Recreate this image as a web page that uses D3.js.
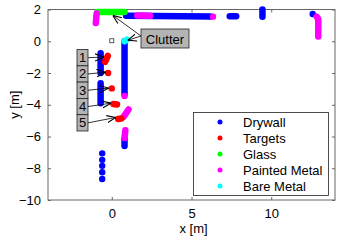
<!DOCTYPE html>
<html><head><meta charset="utf-8">
<script src="https://cdn.jsdelivr.net/npm/d3@7"></script>
<style>body{margin:0;background:#fff}svg{display:block;font-family:"Liberation Sans",Arial,sans-serif}</style>
</head><body><svg id="c" width="341" height="242"></svg>
<script>
const xTicks = [0, 5, 10];
const yTicks = [-10, -8, -6, -4, -2, 0, 2];
const categories = ["Drywall", "Targets", "Glass", "Painted Metal", "Bare Metal"];
const colors = ["#0000ff", "#ff0000", "#00ff00", "#ff00ff", "#00ffff"];

const drywallLines = [
  [[0.9, 1.6], [6.2, 1.56]],
  [[7.4, 1.57], [7.8, 1.57]],
  [[9.45, 2.0], [9.45, 1.55]],
  [[0.8, 0.0], [0.8, -3.35]],
  [[-0.7, -0.75], [-0.7, -2.0]],
  [[-0.7, -2.65], [-0.7, -3.9]],
  [[0.8, -6.15], [0.8, -6.6]]
];
const drywallPoints = [[12.6, 1.72], [-0.6, -7.06], [-0.6, -7.47], [-0.6, -7.85], [-0.6, -8.25], [-0.6, -8.68]];
const targetLines = [
  [[-0.25, -0.92], [-0.42, -1.3]],
  [[0.1, -3.95], [0.33, -3.98]],
  [[0.4, -4.9], [0.6, -4.87]]
];
const targetPoints = [[-0.23, -2.0], [0.0, -2.97]];
const glassLines = [[[-0.9, 1.84], [0.8, 1.84]]];
const paintedLines = [
  [[-0.95, 1.75], [-1.0, 1.15]],
  [[1.6, 1.62], [2.4, 1.6]],
  [[12.85, 1.55], [12.95, 1.4], [12.95, 0.3]],
  [[1.05, -4.3], [0.75, -4.75]],
  [[0.85, -5.6], [0.8, -6.1]]
];
const paintedPoints = [[6.35, 1.55], [0.8, -3.45]];
const bareLines = [[[0.8, 0.0], [0.95, 0.1]]];
const sensor = [0, 0];
const targetLabels = ["1", "2", "3", "4", "5"];
const targetArrowTips = [[-0.5, -1.0], [-0.38, -1.95], [-0.2, -2.95], [-0.05, -3.9], [0.25, -4.8]];
const clutterTips = [[0.06, 1.63], [1.0, 0.06]];

const svg = d3.select("#c");
const L = 48, R = 335, T = 9.5, B = 200;
const x = d3.scaleLinear().domain([-4, 14]).range([L, R]);
const y = d3.scaleLinear().domain([-10, 2]).range([B, T]);
const axisColor = "#666";

const gx = svg.append("g").attr("transform", `translate(0,${B})`)
  .call(d3.axisBottom(x).tickValues(xTicks).tickSizeInner(-3).tickSizeOuter(0).tickPadding(9));
const gxt = svg.append("g").attr("transform", `translate(0,${T})`)
  .call(d3.axisTop(x).tickValues(xTicks).tickSizeInner(-3).tickSizeOuter(0).tickFormat(""));
const gy = svg.append("g").attr("transform", `translate(${L},0)`)
  .call(d3.axisLeft(y).tickValues(yTicks).tickSizeInner(-3).tickSizeOuter(0).tickPadding(7));
const gyr = svg.append("g").attr("transform", `translate(${R},0)`)
  .call(d3.axisRight(y).tickValues(yTicks).tickSizeInner(-3).tickSizeOuter(0).tickFormat(""));
[gx, gxt, gy, gyr].forEach(g => {
  g.select(".domain").remove();
  g.selectAll("line").attr("stroke", axisColor);
  g.selectAll("text").attr("fill", "#000").attr("font-size", 13)
    .attr("font-family", "Liberation Sans, Arial, sans-serif");
});
svg.append("rect").attr("x", L).attr("y", T).attr("width", R - L).attr("height", B - T)
  .attr("fill", "none").attr("stroke", axisColor).attr("stroke-width", 1);

svg.append("text").attr("x", (L + R) / 2 + 2).attr("y", 233).attr("text-anchor", "middle")
  .attr("font-size", 13).text("x [m]");
svg.append("text").attr("transform", `translate(19,${(T + B) / 2}) rotate(-90)`)
  .attr("text-anchor", "middle").attr("font-size", 13).text("y [m]");

const line = d3.line().x(d => x(d[0])).y(d => y(d[1]));
function drawLines(arr, c) {
  svg.append("g").selectAll("path").data(arr).join("path").attr("d", line)
    .attr("fill", "none").attr("stroke", c).attr("stroke-width", 6.5)
    .attr("stroke-linecap", "round").attr("stroke-linejoin", "round");
}
function drawPts(arr, c) {
  svg.append("g").selectAll("circle").data(arr).join("circle")
    .attr("cx", d => x(d[0])).attr("cy", d => y(d[1])).attr("r", 3.2).attr("fill", c);
}
drawLines(drywallLines, colors[0]);
drawPts(drywallPoints, colors[0]);
drawLines(glassLines, colors[2]);
drawLines(paintedLines, colors[3]);
drawPts(paintedPoints, colors[3]);
drawLines(bareLines, colors[4]);
drawLines(targetLines, colors[1]);
drawPts(targetPoints, colors[1]);

svg.append("rect").attr("x", x(sensor[0]) - 2).attr("y", y(sensor[1]) - 2.5)
  .attr("width", 4).attr("height", 4).attr("fill", "none").attr("stroke", "#333").attr("stroke-width", 0.8);

svg.append("defs").append("marker").attr("id", "ah").attr("viewBox", "0 0 10 10")
  .attr("refX", 10).attr("refY", 5).attr("markerWidth", 9).attr("markerHeight", 9)
  .attr("markerUnits", "userSpaceOnUse").attr("orient", "auto")
  .append("path").attr("d", "M0,1 L10,5 L0,9").attr("fill", "none").attr("stroke", "#000").attr("stroke-width", 1.2);

const bx = 77, bw = 11, by0 = 49.5, bh = 16.3;
targetLabels.forEach((t, i) => {
  const top = by0 + i * bh;
  const ay = top + bh / 2;
  const tip = targetArrowTips[i];
  svg.append("line").attr("x1", bx + bw).attr("y1", ay).attr("x2", x(tip[0])).attr("y2", y(tip[1]))
    .attr("stroke", "#000").attr("stroke-width", 0.8).attr("marker-end", "url(#ah)");
  svg.append("rect").attr("x", bx).attr("y", top).attr("width", bw).attr("height", bh)
    .attr("fill", "#b4b4b4").attr("stroke", "#222").attr("stroke-width", 0.8);
  svg.append("text").attr("x", bx + bw / 2).attr("y", top + bh / 2 + 4.5).attr("text-anchor", "middle")
    .attr("font-size", 13).text(t);
});

const cb = {x: 141, y: 29, w: 48, h: 19};
clutterTips.forEach(tp => {
  svg.append("line").attr("x1", cb.x).attr("y1", cb.y + 7).attr("x2", x(tp[0])).attr("y2", y(tp[1]))
    .attr("stroke", "#000").attr("stroke-width", 0.8).attr("marker-end", "url(#ah)");
});
svg.append("rect").attr("x", cb.x).attr("y", cb.y).attr("width", cb.w).attr("height", cb.h)
  .attr("fill", "#b4b4b4").attr("stroke", "#222").attr("stroke-width", 0.8);
svg.append("text").attr("x", cb.x + cb.w / 2).attr("y", cb.y + 14.5).attr("text-anchor", "middle")
  .attr("font-size", 13).text("Clutter");

const lg = svg.append("g");
lg.append("rect").attr("x", 193.5).attr("y", 112.5).attr("width", 135).attr("height", 83)
  .attr("fill", "#fff").attr("stroke", "#222").attr("stroke-width", 0.8);
categories.forEach((c, i) => {
  const yy = 122 + i * 16;
  lg.append("circle").attr("cx", 220).attr("cy", yy).attr("r", 2.5).attr("fill", colors[i]);
  lg.append("text").attr("x", 243).attr("y", yy + 4.5).attr("font-size", 13).text(c);
});
</script></body></html>
